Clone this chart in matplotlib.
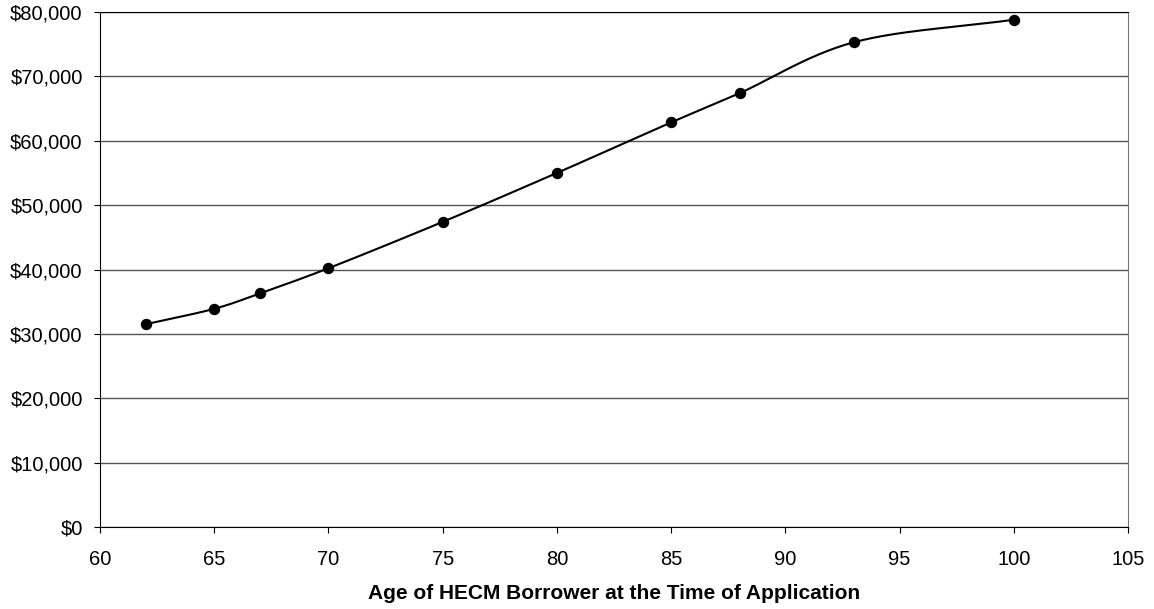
import numpy as np
import matplotlib.pyplot as plt
from matplotlib.ticker import FuncFormatter

plt.rcParams['font.family'] = ['Liberation Sans', 'DejaVu Sans']

age = [62, 65, 67, 70, 75, 80, 85, 88, 93, 100]
amount = [31500, 33900, 36300, 40200, 47400, 55000, 62850, 67400, 75300, 78800]


def catmull_rom(x, y, n=30):
    # smoothed line through the points (like a spreadsheet "smoothed line")
    x = np.asarray(x, float)
    y = np.asarray(y, float)
    px = np.concatenate([[2 * x[0] - x[1]], x, [2 * x[-1] - x[-2]]])
    py = np.concatenate([[2 * y[0] - y[1]], y, [2 * y[-1] - y[-2]]])
    xs, ys = [], []
    t = np.linspace(0, 1, n)
    for i in range(1, len(px) - 2):
        p0, p1, p2, p3 = [np.array([px[j], py[j]]) for j in range(i - 1, i + 3)]
        c1 = p1 + (p2 - p0) / 6
        c2 = p2 - (p3 - p1) / 6
        b = (((1 - t) ** 3)[:, None] * p1 + (3 * (1 - t) ** 2 * t)[:, None] * c1
             + (3 * (1 - t) * t ** 2)[:, None] * c2 + (t ** 3)[:, None] * p2)
        xs.extend(b[:, 0])
        ys.extend(b[:, 1])
    return np.array(xs), np.array(ys)


fig = plt.figure(figsize=(11.54, 6.09), dpi=100)
ax = fig.add_axes([0.0867, 0.1346, 0.8908, 0.8457])

sx, sy = catmull_rom(age, amount)
ax.plot(sx, sy, color='black', lw=1.5, zorder=3)
ax.plot(age, amount, 'o', color='black', ms=7.2, zorder=4, clip_on=False)

ax.set_xlim(60, 105)
ax.set_ylim(0, 80000)
ax.set_xticks(range(60, 106, 5))
ax.set_yticks(range(0, 80001, 10000))
ax.yaxis.set_major_formatter(FuncFormatter(lambda v, p: f"${v:,.0f}"))
ax.yaxis.grid(True, color='#555555', lw=1)
ax.set_axisbelow(True)

for s in ['left', 'bottom', 'top']:
    ax.spines[s].set_color('black')
ax.spines['right'].set_color('#777777')
ax.tick_params(axis='both', direction='out', length=4.5, labelsize=14.5, color='black')
ax.tick_params(axis='y', pad=8)
ax.tick_params(axis='x', pad=12)

ax.set_xlabel('Age of HECM Borrower at the Time of Application',
              fontsize=15, fontweight='bold', labelpad=11)

fig.savefig('out.png', dpi=100)
